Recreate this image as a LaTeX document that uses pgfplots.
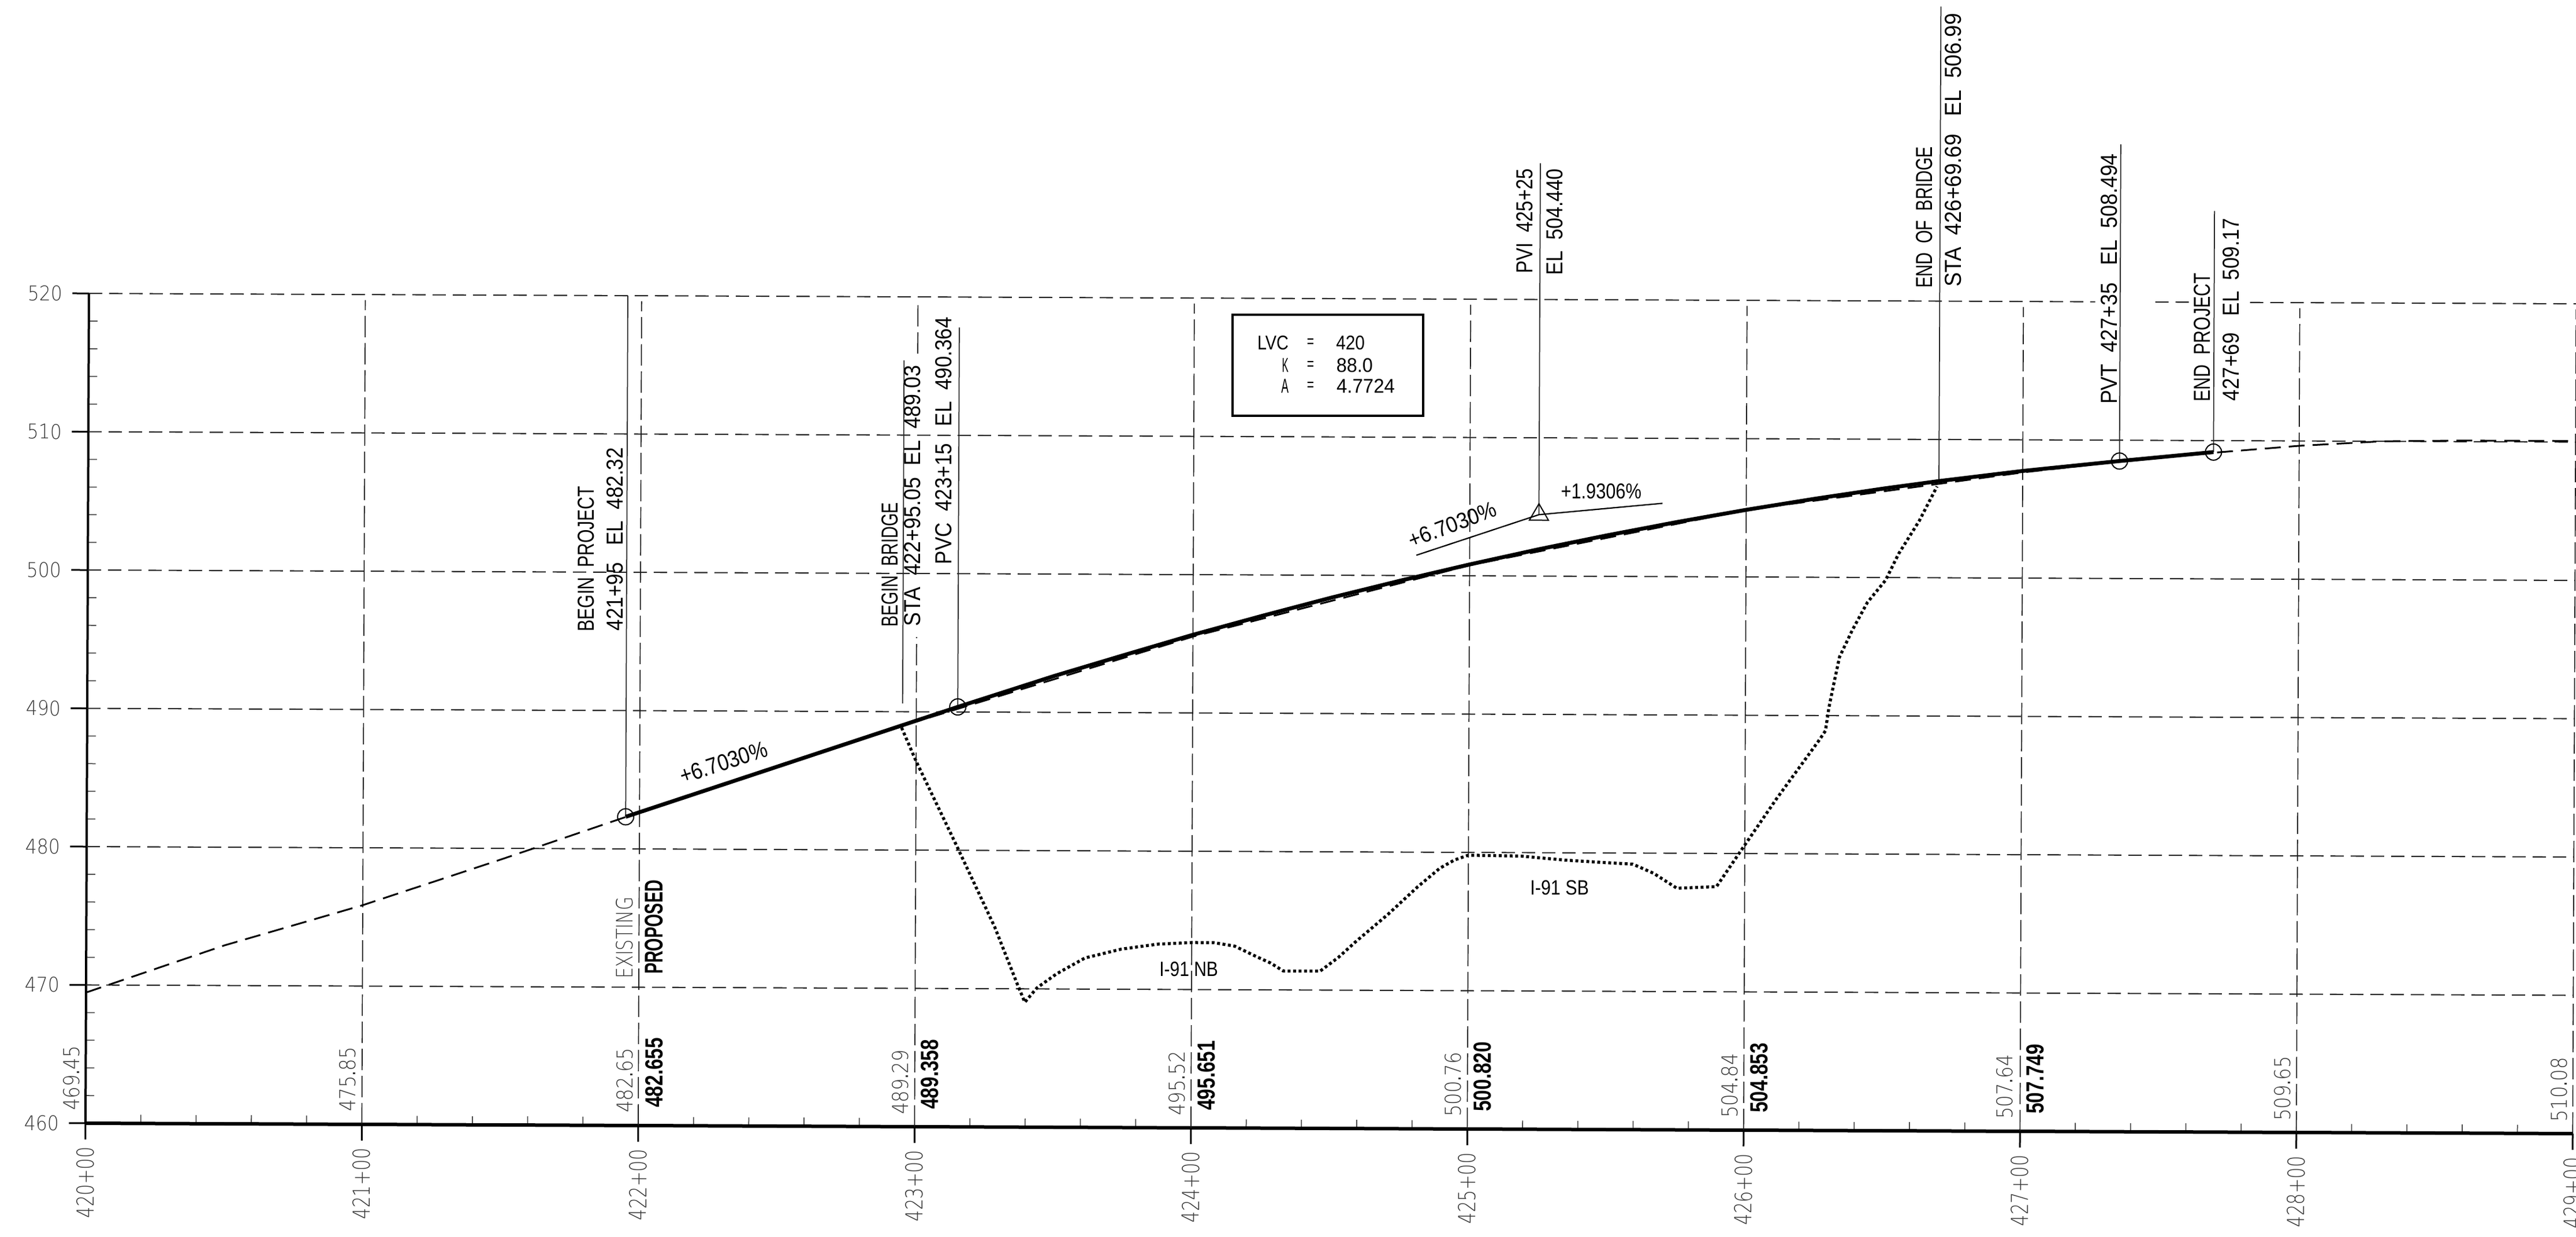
\documentclass[border=0pt]{standalone}
\usepackage{graphicx}
\usepackage{fontspec}
\usepackage{pgfplots}
\pgfplotsset{compat=1.18}
\setmainfont{Liberation Sans}
\newfontfamily\thinf{DejaVu Sans ExtraLight}
\newfontfamily\cad{Liberation Sans}
\newfontfamily\cadb{Liberation Sans}[BoldFont={Liberation Sans Bold}]
\definecolor{inkthin}{gray}{0.22}
% text forced to a measured size: width px, height px, font, text (1 px = 0.2pt)
\newcommand\fit[4]{\resizebox{\dimexpr #1pt/5\relax}{\dimexpr #2pt/5\relax}{#3 #4}}
\newcommand\xl[1]{\fit{123}{30}{\thinf\color{inkthin}}{#1}}
\newcommand\yl[1]{\fit{60}{26}{\thinf\color{inkthin}}{#1}}
% thin elevation figures, the point set heavier so it survives the thin face
\newcommand\el[2]{\fit{112}{28}{\thinf\color{inkthin}}{#1{\cad.}#2}}
\begin{document}
\begin{tikzpicture}
\path[use as bounding box] (0,0) rectangle (892pt,428.4pt);
\begin{scope}[shift={(29.6pt,39.4pt)},rotate=-0.24]
\begin{axis}[
    scale only axis,
    width=861.3pt, height=287.4pt,
    xmin=420, xmax=429, ymin=460, ymax=520,
    clip=false,
    axis lines=left,
    x axis line style={-, line width=1.2pt},
    y axis line style={-, line width=0.8pt},
    xtick={420,...,429},
    ytick={460,470,...,520},
    xticklabels={\xl{420+00},\xl{421+00},\xl{422+00},\xl{423+00},\xl{424+00},\xl{425+00},\xl{426+00},\xl{427+00},\xl{428+00},\xl{429+00}},
    yticklabels={\yl{460},\yl{470},\yl{480},\yl{490},\yl{500},\yl{510},\yl{520}},
    minor x tick num=4, minor y tick num=4,
    tick align=inside,
    major tick length=0pt, minor tick length=3pt,
    minor tick style={line width=0.35pt, black!70},
    xticklabel style={rotate=90, anchor=east, inner sep=0pt, xshift=-8pt},
    yticklabel style={anchor=east, inner sep=0pt, xshift=-9pt},
    unbounded coords=jump,
    hgrid/.style={line width=0.42pt, black!85, dash pattern=on 4.6pt off 2.4pt},
    vgrid/.style={line width=0.34pt, black!90, dash pattern=on 7.4pt off 2pt},
    leader/.style={line width=0.35pt, black!85},
    mk/.style={only marks, mark options={line width=0.4pt, fill=none, draw=black}},
]
% horizontal grid
\addplot[hgrid] coordinates {(420,470)(429,470)(420,nan)(420,480)(429,480)(420,nan)(420,490)(429,490)(420,nan)(420,500)(429,500)(420,nan)(420,510)(429,510)};
\addplot[hgrid] coordinates {(420,520)(427.26,520)(427,nan)(427.477,520)(427.61,520)(427,nan)(427.82,520)(429,520)};
% vertical grid
\addplot[vgrid] coordinates {(421,460)(421,519.6)(421,nan)(422,460)(422,519.6)(422,nan)(423,460)(423,495.4)(423,nan)(423,515.9)(423,519.6)(423,nan)(424,460)(424,519.6)(424,nan)(425,460)(425,519.6)(425,nan)(426,460)(426,519.6)(426,nan)(427,460)(427,519.6)(427,nan)(428,460)(428,519.6)(428,nan)(429,460)(429,519.6)};
% major tick stubs
\addplot[line width=0.6pt, black] coordinates {(420,460)(420,458.83)(420,nan)(421,460)(421,458.83)(421,nan)(422,460)(422,458.83)(422,nan)(423,460)(423,458.83)(423,nan)(424,460)(424,458.83)(424,nan)(425,460)(425,458.83)(425,nan)(426,460)(426,458.83)(426,nan)(427,460)(427,458.83)(427,nan)(428,460)(428,458.83)(428,nan)(429,460)(429,458.83)};
\addplot[line width=0.6pt, black] coordinates {(420,460)(419.94,460)(420,nan)(420,470)(419.94,470)(420,nan)(420,480)(419.94,480)(420,nan)(420,490)(419.94,490)(420,nan)(420,500)(419.94,500)(420,nan)(420,510)(419.94,510)(420,nan)(420,520)(419.94,520)};
% leaders
\addplot[leader] coordinates {(421.95,482.32)(421.95,520)};
\addplot[leader] coordinates {(422.9505,490.6)(422.9505,515.4)};
\addplot[leader] coordinates {(423.15,490.364)(423.15,517.8)};
\addplot[leader] coordinates {(425.25,504.44)(425.25,529.85)};
\addplot[leader] coordinates {(426.6969,506.99)(426.6969,541.3)};
\addplot[leader] coordinates {(427.35,508.494)(427.35,531.4)};
\addplot[leader] coordinates {(427.69,509.17)(427.69,526.6)};
% existing ground
\addplot[line width=0.6pt, black, dash pattern=on 5.5pt off 2.8pt] coordinates {
 (420,469.45)(420.5,472.9)(421,475.85)(421.5,479.2)(422,482.65)(423,489.29)(424,495.52)(425,500.76)(426,504.84)(427,507.64)(427.5,508.8)(428,509.65)(428.3,510.0)(428.6,510.08)(429,510.08)};
% proposed grade
\addplot[line width=1.35pt, black] coordinates {
 (421.95,482.32)(423.15,490.364)(423.5,492.640)(423.75,494.157)(424,495.651)(424.25,497.04)(424.5,498.378)(424.75,499.63)(425,500.820)(425.25,501.94)(425.5,502.978)(425.75,503.95)(426,504.853)(426.25,505.68)(426.5,506.443)(426.6969,506.99)(427,507.749)(427.35,508.494)(427.69,509.17)};
% I-91 ground
\addplot[line width=1.05pt, black, dash pattern=on 1pt off 0.9pt] coordinates {
 (422.947,488.85)(423,486.43)(423.147,480.37)(423.287,474.46)(423.367,470.47)(423.397,469.03)(423.441,470.08)(423.512,471.1)(423.614,472.25)(423.745,472.9)(423.876,473.27)(424,473.4)(424.08,473.4)(424.156,473.15)(424.24,472.35)(424.285,471.95)(424.332,471.37)(424.465,471.37)(424.53,472.35)(424.593,473.5)(424.71,475.5)(424.817,477.5)(424.897,478.85)(424.95,479.45)(425,479.8)(425.19,479.75)(425.35,479.47)(425.48,479.32)(425.595,479.2)(425.67,478.55)(425.755,477.47)(425.898,477.6)(426,480.62)(426.114,483.97)(426.266,488.18)(426.29,488.9)(426.302,490.55)(426.32,492.35)(426.34,494.25)(426.386,496.2)(426.44,498.2)(426.505,499.8)(426.553,501.75)(426.626,504.1)(426.69,506.6)};
% grade tangents at the PVI
\addplot[line width=0.45pt, black] coordinates {(424.807,501.47)(425.25,504.44)(425.697,505.30)};
% control points
\addplot[mk, mark=o, mark size=2.8pt] coordinates {(421.95,482.32)(423.15,490.364)(427.35,508.494)(427.69,509.17)};
\addplot[mk, mark=triangle, mark size=3.8pt] coordinates {(425.25,504.44)};
\end{axis}
\end{scope}
% text and box, in image pixels from the top left
\begin{scope}[x=0.2pt, y=-0.2pt, shift={(0,428.4pt)},
    up/.style={rotate=90, anchor=base west, inner sep=0pt},
    flat/.style={inner sep=0pt}]
\draw[line width=0.8pt] (2134,545) rectangle (2464,720);
\node[flat, anchor=base east] at (2232,606) {\fit{62}{24}{\cad}{LVC}};
\node[flat] at (2266,594) {\fit{18}{15}{\cad}{=}};
\node[flat, anchor=base west] at (2304,606) {\fit{58}{24}{\cad}{420}};
\node[flat, anchor=base east] at (2232,645) {\fit{16}{24}{\cad}{K}};
\node[flat] at (2266,633) {\fit{18}{15}{\cad}{=}};
\node[flat, anchor=base west] at (2304,645) {\fit{72}{24}{\cad}{88.0}};
\node[flat, anchor=base east] at (2232,681) {\fit{18}{24}{\cad}{A}};
\node[flat] at (2266,669) {\fit{18}{15}{\cad}{=}};
\node[flat, anchor=base west] at (2304,681) {\fit{110}{24}{\cad}{4.7724}};
\node[up] at (1029,1103) {\fit{260}{28}{\cad}{BEGIN~~PROJECT}};
\node[up] at (1079,1103) {\fit{327}{28}{\cad}{421+95~~~EL~~482.32}};
\node[up] at (1555,1095) {\fit{224}{28}{\cad}{BEGIN~~BRIDGE}};
\node[up] at (1594,1095) {\fit{461}{28}{\cad}{STA~~422+95.05~~EL~~489.03}};
\node[up] at (1648,988) {\fit{438}{28}{\cad}{PVC~~423+15~~~EL~~490.364}};
\node[up] at (2654,484) {\fit{191}{28}{\cad}{PVI~~425+25}};
\node[up] at (2706,487) {\fit{194}{28}{\cad}{EL~~504.440}};
\node[up] at (3346,508) {\fit{253}{28}{\cad}{END~~OF~~BRIDGE}};
\node[up] at (3396,508) {\fit{484}{28}{\cad}{STA~~426+69.69~~~EL~~506.99}};
\node[up] at (3666,711) {\fit{444}{28}{\cad}{PVT~~427+35~~~EL~~508.494}};
\node[up] at (3827,705) {\fit{231}{28}{\cad}{END~~PROJECT}};
\node[up] at (3877,705) {\fit{326}{28}{\cad}{427+69~~~EL~~509.17}};
\node[up] at (1096,1696) {\fit{142}{29}{\thinf\color{inkthin}}{EXISTING}};
\node[up] at (1148,1696) {\fit{171}{31}{\cadb\bfseries}{PROPOSED}};
\node[flat, rotate=18] at (1248,1322) {\fit{167}{28}{\cad}{+6.7030\%}};
\node[flat, rotate=21] at (2510,910) {\fit{170}{27}{\cad}{+6.7030\%}};
\node[flat] at (2768,851) {\fit{148}{26}{\cad}{+1.9306\%}};
\node[flat] at (2054,1678) {\fit{110}{25}{\cad}{I-91 NB}};
\node[flat] at (2696,1537) {\fit{110}{25}{\cad}{I-91 SB}};
% existing elevations
\node[up] at (138,1924) {\el{469}{45}};
\node[up] at (616,1926) {\el{475}{85}};
\node[up] at (1096,1928) {\el{482}{65}};
\node[up] at (1573,1931) {\el{489}{29}};
\node[up] at (2052,1933) {\el{495}{52}};
\node[up] at (2530,1935) {\el{500}{76}};
\node[up] at (3009,1937) {\el{504}{84}};
\node[up] at (3485,1939) {\el{507}{64}};
\node[up] at (3966,1942) {\el{509}{65}};
\node[up] at (4445,1944) {\el{510}{08}};
% proposed elevations
\node[up] at (1148,1928) {\fit{130}{30}{\cadb\bfseries}{482.655}};
\node[up] at (1625,1931) {\fit{130}{30}{\cadb\bfseries}{489.358}};
\node[up] at (2104,1933) {\fit{130}{30}{\cadb\bfseries}{495.651}};
\node[up] at (2582,1935) {\fit{130}{30}{\cadb\bfseries}{500.820}};
\node[up] at (3061,1937) {\fit{130}{30}{\cadb\bfseries}{504.853}};
\node[up] at (3539,1939) {\fit{130}{30}{\cadb\bfseries}{507.749}};
\end{scope}
\end{tikzpicture}
\end{document}
